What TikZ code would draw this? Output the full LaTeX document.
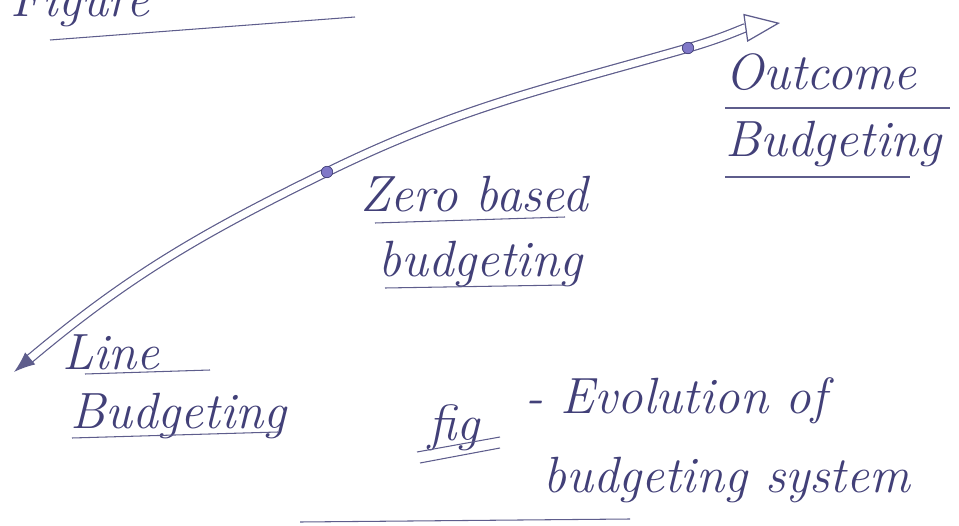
\documentclass[tikz,border=0pt]{standalone}
\usepackage{tikz}
\usetikzlibrary{arrows.meta,positioning}
\definecolor{ink}{RGB}{66,64,120}
\definecolor{dotfill}{RGB}{128,120,200}

\begin{document}
\begin{tikzpicture}[x=0.02cm,y=0.02cm]
        \tikzstyle{every node}+=[inner sep=0pt]
        \tikzstyle{hand}=[font=\fontsize{29}{34}\selectfont\itshape, text=ink, anchor=base west]
        \tikzstyle{uline}=[ink!85, line width=0.6pt]
        \tikzstyle{stage}=[circle, draw=ink, fill=dotfill, minimum size=6.5pt]
        \useasboundingbox (0,0) rectangle (959,-526);
        \clip (0,0) rectangle (959,-526);
        % heading, cut off at the top
        \node [hand] (head) at (10,-17) {Figure};
        \draw [uline] (50,-40) -- (355,-17);
        % the stages
        \coordinate (start) at (14,-372);
        \coordinate (zero) at (327,-172);
        \coordinate (outc) at (688,-48);
        \coordinate (tip) at (780,-23);
        \draw [ink!85, line width=0.7pt, double, double distance=4pt,
               {Latex[length=12pt,width=9pt]}-{Triangle[open,length=20pt,width=16pt]}]
              (start) to[out=40,in=-154] (zero) to[out=26,in=-164] (outc) to[out=16,in=-172] (tip);
        \node [stage] (zerodot) at (zero) {};
        \node [stage] (outcdot) at (outc) {};
        % labels
        \node [hand] (line) at (62,-370) {Line};
        \draw [uline] (85,-374) -- (210,-370);
        \node [hand] (lineb) at (70,-428) {Budgeting};
        \draw [uline] (72,-438) -- (278,-432);
        \node [hand] (zerol) at (360,-212) {Zero based};
        \draw [uline] (375,-223) -- (565,-217);
        \node [hand] (zerob) at (378,-277) {budgeting};
        \draw [uline] (385,-288) -- (565,-285);
        \node [hand] (outl) at (725,-90) {Outcome};
        \draw [uline] (725,-108) -- (950,-108);
        \node [hand] (outb) at (725,-157) {Budgeting};
        \draw [uline] (725,-177) -- (910,-177);
        % caption
        \node [hand] (fig) at (428,-440) {fig};
        \draw [uline] (417,-452) -- (500,-437);
        \draw [uline] (420,-463) -- (500,-448);
        \node [hand] (evo) at (525,-413) {- Evolution of};
        \node [hand] (sys) at (543,-492) {budgeting system};
        \draw [uline] (300,-522) -- (630,-519);
\end{tikzpicture}
\end{document}
